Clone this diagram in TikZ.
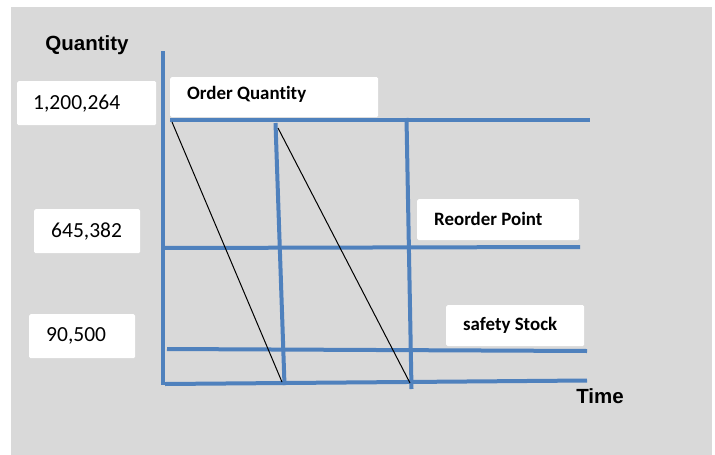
\documentclass[tikz,border=0pt]{standalone}
\usepackage{fontspec}
\setmainfont[Ligatures=CommonOff]{Carlito}
\newfontfamily\arialfont{Liberation Sans}
\definecolor{bgray}{HTML}{D9D9D9}
\definecolor{axisblue}{HTML}{4F81BD}
\begin{document}
\begin{tikzpicture}[x=1pt,y=-1pt,
  valbox/.style={fill=white,rounded corners=1.5pt,inner sep=0pt,anchor=north west},
  lblbox/.style={fill=white,rounded corners=1.5pt,inner sep=0pt,anchor=north west},
  valtext/.style={anchor=west,inner sep=0pt,font=\fontsize{21.5}{25}\selectfont},
  lbltext/.style={anchor=west,inner sep=0pt,font=\bfseries\fontsize{18.9}{22}\selectfont},
  axistitle/.style={font=\arialfont\bfseries\fontsize{20.5}{24}\selectfont,inner sep=0pt},
  blueline/.style={draw=axisblue,line width=4pt},
  drawdown/.style={draw=black,line width=1pt}]
\useasboundingbox (0,0) rectangle (715,455);
\fill[white] (0,0) rectangle (715,455);
\fill[bgray] (11,7) rectangle (712,455);
% axis titles
\node[axistitle] (qty) at (87,45) {Quantity};
\node[axistitle] (time) at (600,396) {Time};
% value boxes
\node[valbox,minimum width=139pt,minimum height=44pt] (v1) at (17,81) {};
\node[valtext] (v1t) at ([xshift=16pt]v1.west) {1,200,264};
\node[valbox,minimum width=106pt,minimum height=44pt] (v2) at (34,209) {};
\node[valtext] (v2t) at ([xshift=17pt]v2.west) {645,382};
\node[valbox,minimum width=106pt,minimum height=44pt] (v3) at (29,314) {};
\node[valtext] (v3t) at ([xshift=17pt]v3.west) {90,500};
% label boxes
\node[lblbox,minimum width=208pt,minimum height=40pt] (oq) at (170,77) {};
\node[lbltext] (oqt) at ([xshift=17pt,yshift=3pt]oq.west) {Order Quantity};
\node[lblbox,minimum width=162pt,minimum height=41pt] (rp) at (417,199) {};
\node[lbltext] (rpt) at ([xshift=17pt,yshift=1pt]rp.west) {Reorder Point};
\node[lblbox,minimum width=138pt,minimum height=41pt] (ss) at (446,305) {};
\node[lbltext] (sst) at ([xshift=17pt,yshift=0.5pt]ss.west) {safety Stock};
% coordinates
\coordinate (yaxT) at (163,51);
\coordinate (yaxB) at (163,385);
\coordinate (oqL) at (170,120);
\coordinate (oqR) at (590,120);
\coordinate (v2T) at (275.5,123);
\coordinate (v2B) at (284.5,385);
\coordinate (v3T) at (406.5,118);
\coordinate (v3B) at (411.5,389);
\coordinate (rpL) at (163,248);
\coordinate (rpR) at (580,247);
\coordinate (ssL) at (167,349);
\coordinate (ssR) at (587,351);
\coordinate (bL) at (165,384);
\coordinate (bR) at (587,380.5);
\coordinate (d1T) at (172,122);
\coordinate (d1B) at (282,382);
\coordinate (d2T) at (278,128);
\coordinate (d2B) at (410,383);
% blue lines
\draw[blueline] (yaxT) -- (yaxB);
\draw[blueline] (oqL) -- (oqR);
\draw[blueline] (v2T) -- (v2B);
\draw[blueline] (v3T) -- (v3B);
\draw[blueline] (rpL) -- (rpR);
\draw[blueline] (ssL) -- (ssR);
\draw[blueline] (bL) -- (bR);
% drawdown lines
\draw[drawdown] (d1T) -- (d1B);
\draw[drawdown] (d2T) -- (d2B);
\end{tikzpicture}
\end{document}
